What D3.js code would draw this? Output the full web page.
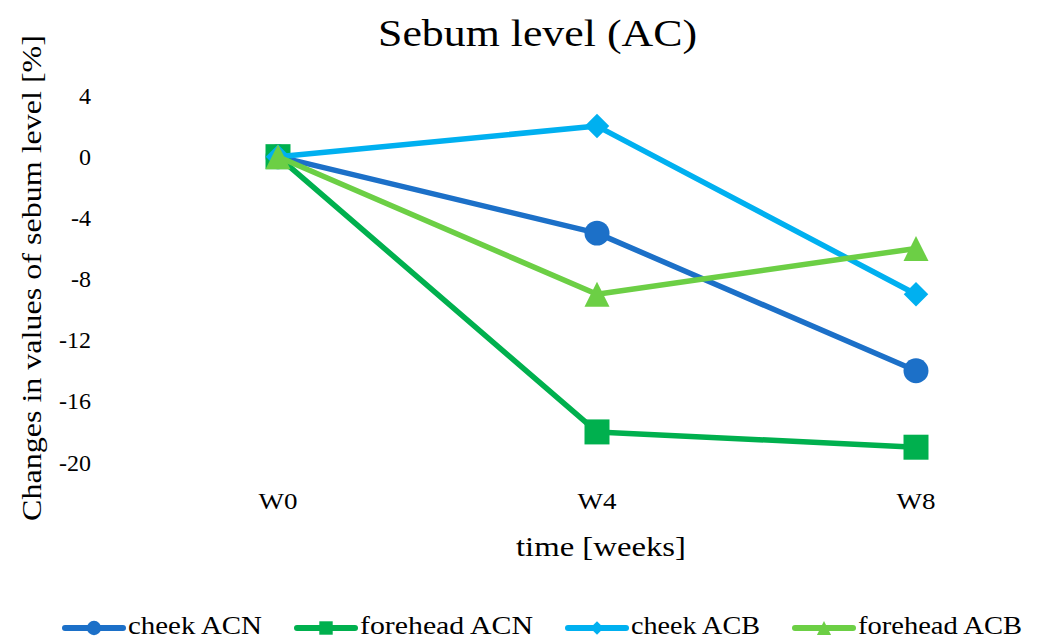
<!DOCTYPE html>
<html><head><meta charset="utf-8">
<script src="https://cdn.jsdelivr.net/npm/d3@7"></script>
<style>body{margin:0;background:#fff}svg{display:block}text{font-family:"Liberation Serif","DejaVu Serif",serif;fill:#000}</style>
</head><body><svg id="c" width="1037" height="639"></svg>
<script>
const categories = ["W0","W4","W8"];
const seriesNames = ["cheek ACN","forehead ACN","cheek ACB","forehead ACB"];
const cheekACN = [0,-5,-14];
const foreheadACN = [0,-18,-19];
const cheekACB = [0,2,-9];
const foreheadACB = [0,-9,-6];
const yTicks = [4,0,-4,-8,-12,-16,-20];
const colors = ["#1C70C8","#00B04E","#00B0F0","#6CCF45"];

const diamond = {draw(ctx,size){const r=Math.sqrt(size)/2;ctx.moveTo(0,-r);ctx.lineTo(r,0);ctx.lineTo(0,r);ctx.lineTo(-r,0);ctx.closePath();}};
const tri = {draw(ctx,size){const r=Math.sqrt(size)/2;ctx.moveTo(0,-r);ctx.lineTo(r,r);ctx.lineTo(-r,r);ctx.closePath();}};
const symbols = [d3.symbolCircle,d3.symbolSquare,diamond,tri];
const symSizes = [490,625,600,625];
const legSizes = [160,180,180,200];
const series = [cheekACN,foreheadACN,cheekACB,foreheadACB].map((v,i)=>({name:seriesNames[i],values:v,color:colors[i],sym:symbols[i],size:symSizes[i],lsize:legSizes[i]}));

const svg = d3.select("#c");
const x = d3.scalePoint().domain(categories).range([278,916]);
const y = d3.scaleLinear().domain([-20,4]).range([462.5,95.5]);

svg.append("text").attr("x",537.5).attr("y",46).attr("text-anchor","middle").style("font-size","38px")
  .attr("textLength",319).attr("lengthAdjust","spacingAndGlyphs").text("Sebum level (AC)");

svg.append("g").selectAll("text").data(yTicks).join("text")
  .attr("x",91).attr("y",d=>y(d)+8).attr("text-anchor","end").style("font-size","24px").text(d=>d);
svg.append("g").selectAll("text").data(categories).join("text")
  .attr("x",d=>x(d)).attr("y",509).attr("text-anchor","middle").style("font-size","24px")
  .attr("textLength",39).attr("lengthAdjust","spacingAndGlyphs").text(d=>d);
svg.append("text").attr("x",601).attr("y",556).attr("text-anchor","middle").style("font-size","27px")
  .attr("textLength",170).attr("lengthAdjust","spacingAndGlyphs").text("time [weeks]");
svg.append("text").attr("transform","translate(41,278) rotate(-90)").attr("text-anchor","middle").style("font-size","28px")
  .attr("textLength",486).attr("lengthAdjust","spacingAndGlyphs").text("Changes in values of sebum level [%]");

const line = d3.line().x((d,i)=>x(categories[i])).y(d=>y(d));
series.forEach(s=>{
  const g = svg.append("g");
  g.append("path").attr("d",line(s.values)).attr("fill","none").attr("stroke",s.color).attr("stroke-width",5.5).attr("stroke-linejoin","round");
  g.selectAll("path.m").data(s.values).join("path").attr("class","m")
    .attr("transform",(d,i)=>`translate(${x(categories[i])},${y(d)})`)
    .attr("d",d3.symbol().type(s.sym).size(s.size)).attr("fill",s.color);
});

const legX = [63,295,566,793];
const legW = [134,173,129,164];
const leg = svg.append("g");
series.forEach((s,i)=>{
  const g = leg.append("g").attr("transform",`translate(${legX[i]},628)`);
  g.append("line").attr("x1",2).attr("x2",60).attr("stroke",s.color).attr("stroke-width",6).attr("stroke-linecap","round");
  g.append("path").attr("transform","translate(31,0)").attr("d",d3.symbol().type(s.sym).size(s.lsize)).attr("fill",s.color);
  g.append("text").attr("x",65).attr("y",6).style("font-size","26px")
    .attr("textLength",legW[i]).attr("lengthAdjust","spacingAndGlyphs").text(s.name);
});
</script></body></html>
